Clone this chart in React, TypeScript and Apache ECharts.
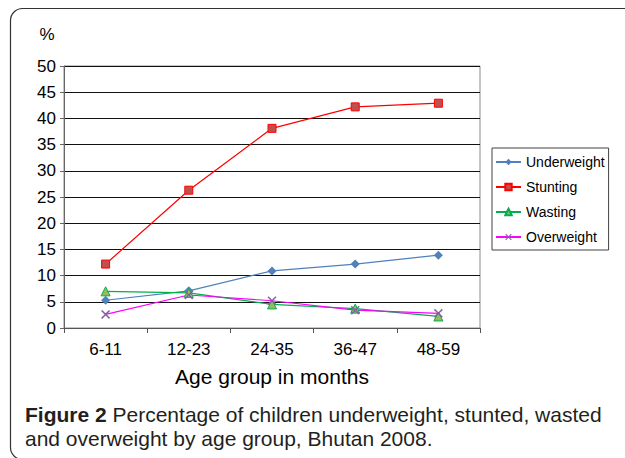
import React, { useEffect, useRef } from "react";
import * as echarts from "echarts";

const categories = ["6-11", "12-23", "24-35", "36-47", "48-59"];
const underweight = [5.3, 7.1, 10.9, 12.2, 13.9];
const stunting = [12.2, 26.3, 38.1, 42.2, 42.9];
const wasting = [7.0, 6.7, 4.5, 3.7, 2.2];
const overweight = [2.6, 6.3, 5.2, 3.4, 2.8];
const yTicks = { min: 0, max: 50, interval: 5 };

const CROSS = "path://M0,1.2L1.2,0L5,3.8L8.8,0L10,1.2L6.2,5L10,8.8L8.8,10L5,6.2L1.2,10L0,8.8L3.8,5Z";

export default function App() {
  const ref = useRef<HTMLDivElement>(null);
  useEffect(() => {
    document.body.style.margin = "0";
    const chart = echarts.init(ref.current!, null, { renderer: "svg" });
    const font = "'Liberation Sans', Arial, sans-serif";
    const capFont = "'Liberation Sans', Arial, sans-serif";
    chart.setOption({
      animation: false,
      backgroundColor: "#fff",
      textStyle: { fontFamily: font, color: "#000" },
      grid: { left: 64, right: 145, top: 66, bottom: 130, show: true, borderColor: "#8c8c8c", borderWidth: 1 },
      legend: {
        orient: "vertical",
        left: 492,
        top: 148,
        itemWidth: 25,
        itemHeight: 8,
        itemGap: 11,
        padding: [7, 4, 6, 3],
        borderColor: "#404040",
        borderWidth: 1,
        textStyle: { fontSize: 14, color: "#000", fontFamily: font },
        data: ["Underweight", "Stunting", "Wasting", "Overweight"],
      },
      xAxis: {
        type: "category",
        data: categories,
        boundaryGap: true,
        axisLine: { lineStyle: { color: "#555", width: 1 } },
        axisTick: { show: true, length: 5, interval: 0, lineStyle: { color: "#555" } },
        axisLabel: { fontSize: 17, color: "#000", margin: 13, interval: 0 },
        name: "Age group in months",
        nameLocation: "middle",
        nameGap: 38,
        nameTextStyle: { fontSize: 21, color: "#000" },
      },
      yAxis: {
        type: "value",
        min: yTicks.min,
        max: yTicks.max,
        interval: yTicks.interval,
        axisLine: { show: true, lineStyle: { color: "#666", width: 1 } },
        axisTick: { show: true, length: 4, lineStyle: { color: "#666" } },
        axisLabel: { fontSize: 17, color: "#000", margin: 8 },
        splitLine: { show: true, lineStyle: { color: "#111", width: 1 } },
      },
      series: [
        {
          name: "Underweight",
          type: "line",
          data: underweight,
          symbol: "diamond",
          symbolSize: 9,
          lineStyle: { color: "#4F81BD", width: 1.2 },
          itemStyle: { color: "#4F81BD" },
        },
        {
          name: "Stunting",
          type: "line",
          data: stunting,
          symbol: "rect",
          symbolSize: 8,
          lineStyle: { color: "#FF0000", width: 1.2 },
          itemStyle: { color: "#C0504D", borderColor: "#FF0000", borderWidth: 1 },
        },
        {
          name: "Wasting",
          type: "line",
          data: wasting,
          symbol: "triangle",
          symbolSize: 9,
          lineStyle: { color: "#00B050", width: 1.2 },
          itemStyle: { color: "#9BBB59", borderColor: "#00B050", borderWidth: 1 },
        },
        {
          name: "Overweight",
          type: "line",
          data: overweight,
          symbol: CROSS,
          symbolSize: 9,
          lineStyle: { color: "#FF00FF", width: 1.2 },
          itemStyle: { color: "#8064A2" },
        },
      ],
      graphic: [
        {
          type: "rect",
          shape: { x: 10.5, y: 8.5, width: 700, height: 451, r: [12, 0, 0, 12] },
          style: { fill: "none", stroke: "#333", lineWidth: 1.2 },
          silent: true,
          z: -1,
        },
        {
          type: "text",
          x: 47,
          y: 34,
          style: { text: "%", fontSize: 17, fontFamily: font, fill: "#000", align: "center", verticalAlign: "middle" },
        },
        {
          type: "text",
          x: 25,
          y: 414,
          style: {
            text: "{b|Figure 2} Percentage of children underweight, stunted, wasted",
            fontSize: 21,
            fontFamily: capFont,
            fill: "#231f20",
            verticalAlign: "middle",
            rich: {
              b: { fontWeight: "bold", fontSize: 21, fontFamily: capFont, fill: "#231f20" },
            },
          },
        },
        {
          type: "text",
          x: 25,
          y: 438,
          style: {
            text: "and overweight by age group, Bhutan 2008.",
            fontSize: 21,
            fontFamily: capFont,
            fill: "#231f20",
            verticalAlign: "middle",
          },
        },
      ],
    });
    return () => chart.dispose();
  }, []);
  return <div ref={ref} style={{ width: 625, height: 458 }} />;
}
